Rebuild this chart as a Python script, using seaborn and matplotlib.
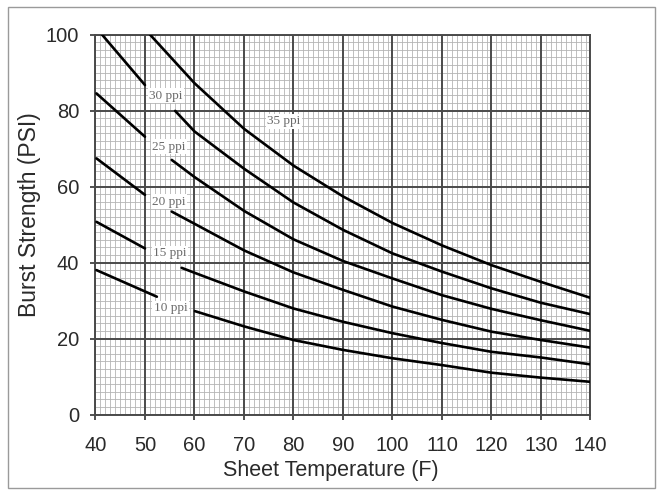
"""Burst strength vs sheet temperature chart, redrawn with seaborn."""

import matplotlib
matplotlib.use("Agg")
import matplotlib.pyplot as plt
import numpy as np
import pandas as pd
import seaborn as sns
from matplotlib.patches import Rectangle
from matplotlib.ticker import MultipleLocator

# curves; each curve is split where its label sits
curve_names = ["10 ppi", "15 ppi", "20 ppi", "25 ppi", "30 ppi", "35 ppi"]

temp_10_left = [40.2, 52.4]
burst_10_left = [38.0, 31.0]
temp_10_right = [60.1, 70, 80, 90, 100, 110, 120, 130, 140]
burst_10_right = [27.2, 23.2, 19.6, 17.0, 14.8, 13.0, 11.0, 9.7, 8.6]

temp_15_left = [40.2, 50]
burst_15_left = [50.7, 43.7]
temp_15_right = [57.4, 60, 70, 80, 90, 100, 110, 120, 130, 140]
burst_15_right = [38.6, 37.3, 32.4, 27.9, 24.4, 21.4, 18.8, 16.5, 15.0, 13.2]

temp_20_left = [40.2, 50]
burst_20_left = [67.4, 57.8]
temp_20_right = [55.4, 60, 70, 80, 90, 100, 110, 120, 130, 140]
burst_20_right = [53.4, 50.2, 43.2, 37.4, 32.8, 28.4, 24.9, 21.8, 19.6, 17.6]

temp_25_left = [40.2, 50]
burst_25_left = [84.5, 73.1]
temp_25_right = [55.4, 60, 70, 80, 90, 100, 110, 120, 130, 140]
burst_25_right = [67.0, 62.5, 53.6, 46.1, 40.4, 35.8, 31.4, 27.8, 24.8, 22.0]

temp_30_left = [41.3, 50]
burst_30_left = [100, 86.7]
temp_30_right = [56.1, 60, 70, 80, 90, 100, 110, 120, 130, 140]
burst_30_right = [79.9, 74.5, 64.7, 55.8, 48.6, 42.4, 37.6, 33.2, 29.4, 26.4]

temp_35 = [51, 60, 70, 80, 90, 100, 110, 120, 130, 140]
burst_35 = [100, 87.2, 75.2, 65.5, 57.4, 50.4, 44.5, 39.3, 34.9, 30.7]

label_temp = [55.2, 55.0, 54.8, 54.8, 54.2, 78.0]
label_burst = [27.9, 42.4, 56.0, 70.5, 83.9, 77.2]

x_ticks = [40, 50, 60, 70, 80, 90, 100, 110, 120, 130, 140]
y_ticks = [0, 20, 40, 60, 80, 100]

segments = [
    ("10 ppi", temp_10_left, burst_10_left), ("10 ppi", temp_10_right, burst_10_right),
    ("15 ppi", temp_15_left, burst_15_left), ("15 ppi", temp_15_right, burst_15_right),
    ("20 ppi", temp_20_left, burst_20_left), ("20 ppi", temp_20_right, burst_20_right),
    ("25 ppi", temp_25_left, burst_25_left), ("25 ppi", temp_25_right, burst_25_right),
    ("30 ppi", temp_30_left, burst_30_left), ("30 ppi", temp_30_right, burst_30_right),
    ("35 ppi", temp_35, burst_35),
]
rows = []
for seg_id, (name, xs, ys) in enumerate(segments):
    for x, y in zip(xs, ys):
        rows.append({"curve": name, "segment": seg_id, "temp": x, "burst": y})
frame = pd.DataFrame(rows)

sns.set_style("white")
plt.rcParams["font.family"] = ["Liberation Sans", "DejaVu Sans"]

fig = plt.figure(figsize=(6.58, 4.91), dpi=100)
ax = fig.add_axes([0.1451, 0.1558, 0.7523, 0.7739])

sns.lineplot(data=frame, x="temp", y="burst", units="segment", estimator=None,
             sort=False, color="black", linewidth=1.9, ax=ax, zorder=3)

ax.set_xlim(40, 140)
ax.set_ylim(0, 100)
ax.set_xticks(x_ticks)
ax.set_yticks(y_ticks)
ax.xaxis.set_minor_locator(MultipleLocator(1))
ax.yaxis.set_minor_locator(MultipleLocator(2))
ax.grid(which="minor", color="#b4b4b4", linewidth=0.6)
ax.grid(which="major", visible=False)
# major grid drawn on top of the fine grid so it stays solid
for xv in x_ticks:
    ax.axvline(xv, color="#4a4a4a", linewidth=1.4, zorder=1.5)
for yv in y_ticks:
    ax.axhline(yv, color="#4a4a4a", linewidth=1.4, zorder=1.5)
ax.set_axisbelow(True)
ax.tick_params(which="major", direction="out", length=3.6, width=1.2, color="#333333",
               labelsize=14.5, labelcolor="#2a2a2a", bottom=True, left=True)
ax.tick_params(axis="x", which="major", pad=12)
ax.tick_params(axis="y", which="major", pad=8)
ax.tick_params(which="minor", length=0)
for side in ax.spines.values():
    side.set_color("#4a4a4a")
    side.set_linewidth(1.4)

ax.set_xlabel("Sheet Temperature (F)", fontsize=15.5, color="#2a2a2a")
ax.set_ylabel("Burst Strength (PSI)", fontsize=16.5, color="#2a2a2a")
ax.xaxis.set_label_coords(0.476, -0.12)
ax.yaxis.set_label_coords(-0.111, 0.525)

for name, lx, ly in zip(curve_names, label_temp, label_burst):
    ax.text(lx, ly, name, ha="center", va="center", fontsize=9.5, color="#6a6a6a",
            family=["Liberation Serif", "DejaVu Serif"], zorder=4,
            bbox=dict(facecolor="white", edgecolor="none", pad=1.0))

fig.patches.append(Rectangle((8 / 658, 3 / 491), 647 / 658, 481 / 491,
                             transform=fig.transFigure, fill=False,
                             edgecolor="#9a9a9a", linewidth=1.0))

fig.savefig("out.png", dpi=100)
plt.close(fig)
